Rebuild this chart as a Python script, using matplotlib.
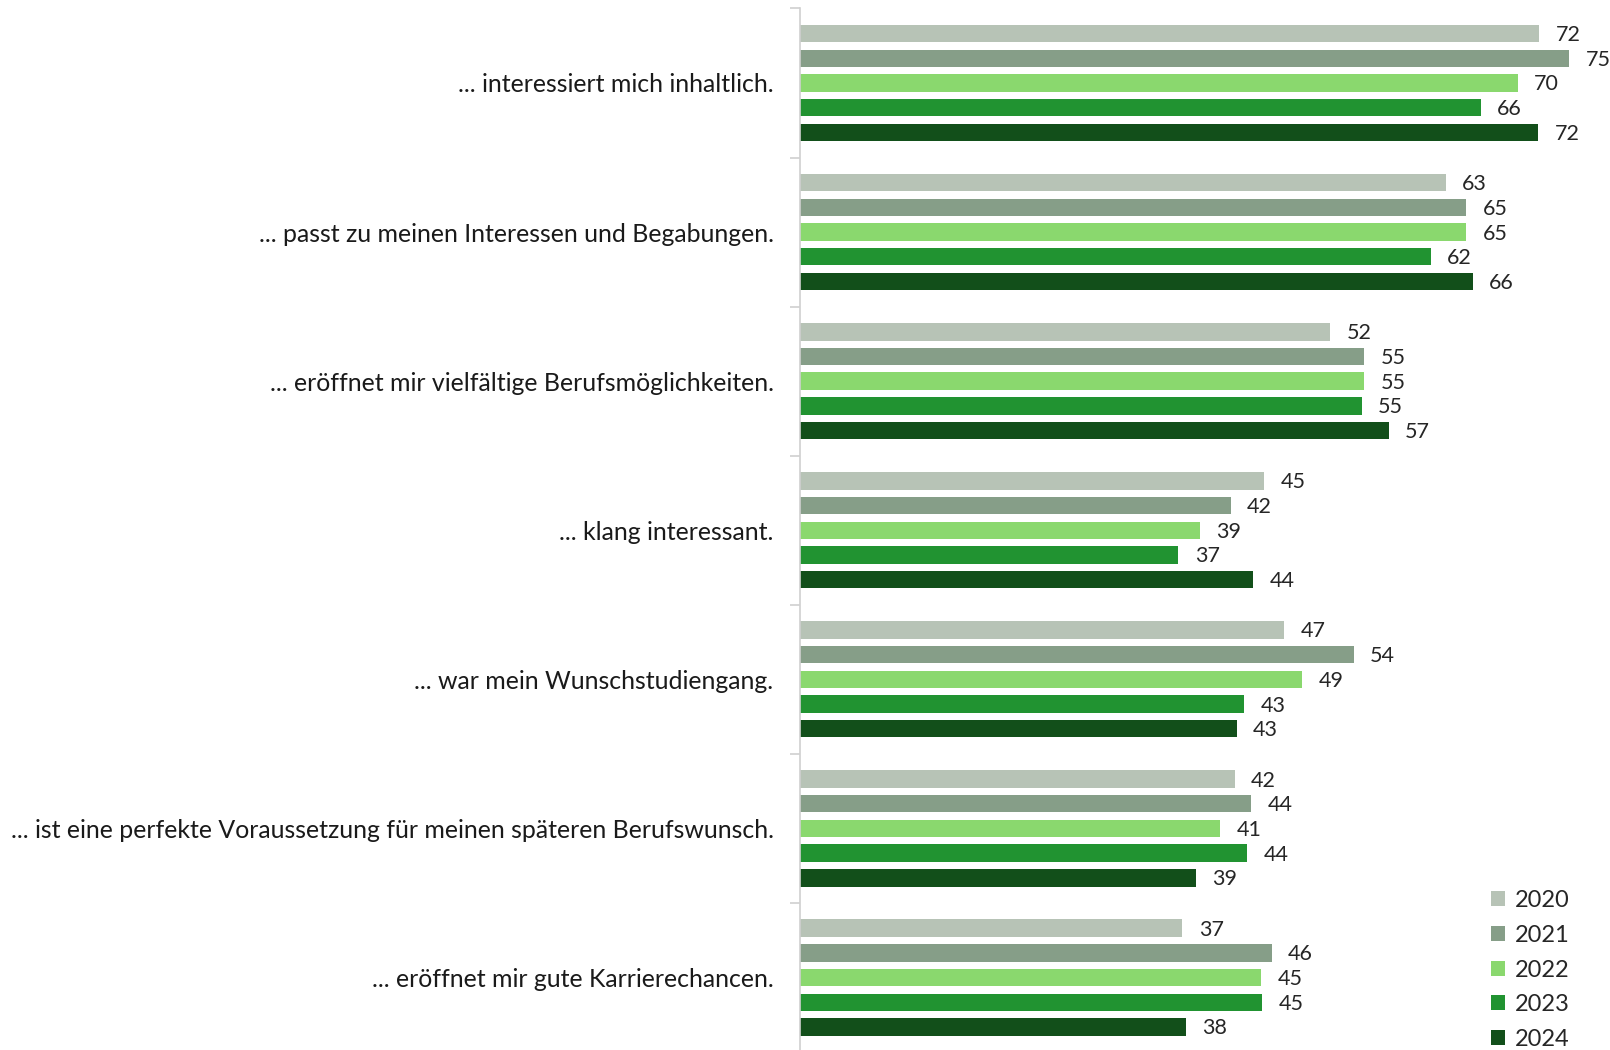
import matplotlib.pyplot as plt
import numpy as np

plt.rcParams['font.family'] = ['Lato', 'DejaVu Sans']

categories = [
    '... interessiert mich inhaltlich.',
    '... passt zu meinen Interessen und Begabungen.',
    '... eröffnet mir vielfältige Berufsmöglichkeiten.',
    '... klang interessant.',
    '... war mein Wunschstudiengang.',
    '... ist eine perfekte Voraussetzung für meinen späteren Berufswunsch.',
    '... eröffnet mir gute Karrierechancen.',
]
years = ['2020', '2021', '2022', '2023', '2024']
v2020 = [72.1, 63.0, 51.7, 45.3, 47.2, 42.4, 37.3]
v2021 = [75.0, 65.0, 55.0, 42.0, 54.0, 44.0, 46.0]
v2022 = [70.0, 65.0, 55.0, 39.0, 49.0, 41.0, 45.0]
v2023 = [66.4, 61.5, 54.8, 36.9, 43.3, 43.6, 45.1]
v2024 = [72.0, 65.6, 57.4, 44.2, 42.6, 38.6, 37.6]
colors = ['#B7C3B6', '#869E88', '#8AD86E', '#219331', '#124F1A']

series = [v2020, v2021, v2022, v2023, v2024]
fig = plt.figure(figsize=(16.1, 10.5), dpi=100)
ax = fig.add_axes([800 / 1610, -0.002, 810 / 1610, 0.994])

y = np.arange(len(categories))
slot = 0.1655
for i, (vals, col, yr) in enumerate(zip(series, colors, years)):
    pos = y + (i - 2) * slot
    ax.barh(pos, vals, height=0.117, color=col, label=yr)
    for p, v in zip(pos, vals):
        ax.text(v + 1.6, p + 0.01, '%d' % round(v), va='center', ha='left',
                fontsize=15.5, color='#262626')

ax.set_xlim(0, 79)
ax.set_ylim(6.5, -0.5)
ax.set_yticks(y)
ax.set_yticklabels(categories, fontsize=17.9, color='#1a1a1a')
ax.tick_params(axis='y', which='major', length=0, pad=19)
ax.set_yticks(np.arange(-0.5, 7, 1), minor=True)
ax.tick_params(axis='y', which='minor', length=7, color='#d0d0d0', width=1.2)
ax.set_xticks([])
for s in ['top', 'right', 'bottom']:
    ax.spines[s].set_visible(False)
ax.spines['left'].set_color('#d0d0d0')
ax.spines['left'].set_linewidth(1.2)

fig.legend(*ax.get_legend_handles_labels(), loc='upper right',
           bbox_to_anchor=(0.985, 0.168), bbox_transform=fig.transFigure,
           frameon=False, fontsize=17, handlelength=0.6, handleheight=0.6,
           labelspacing=0.58, handletextpad=0.4, borderpad=0.2,
           labelcolor='#262626')

fig.savefig('out.png', dpi=100)
